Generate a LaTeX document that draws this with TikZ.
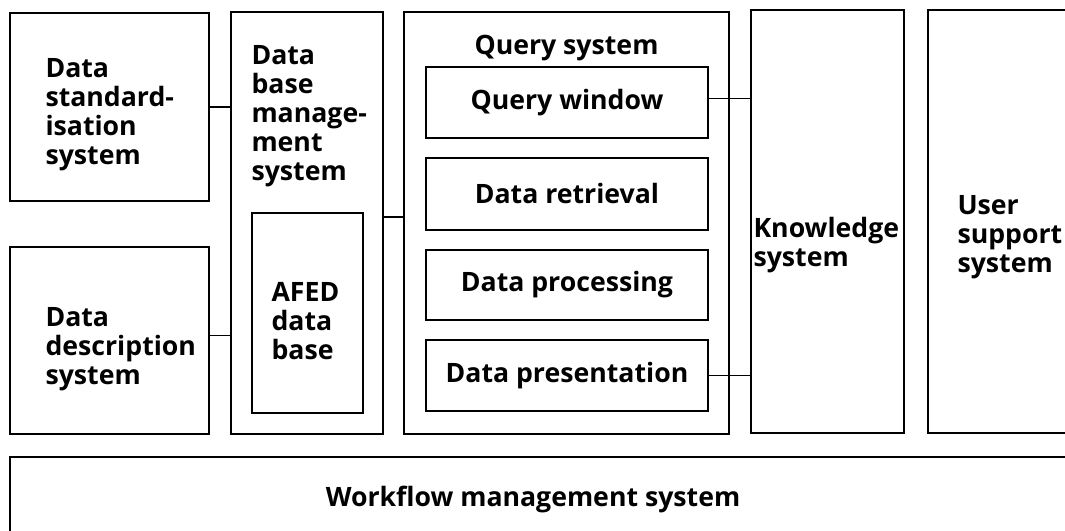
\documentclass[tikz,border=0pt]{standalone}
\usepackage{fontspec}
\setmainfont{Open Sans}
\usetikzlibrary{fit}

\begin{document}
\begin{tikzpicture}[x=0.75pt,y=-0.75pt,line width=0.8pt]
		\clip (0,0) rectangle (1065,531);
		% boxes
		\begin{scope}[every node/.style={draw,inner sep=0pt}]
			\node[fit={(10,13) (209,201)}] (std) {};
			\node[fit={(10,247) (209,434)}] (desc) {};
			\node[fit={(231,12) (383,434)}] (dbms) {};
			\node[fit={(252,213) (363,413)}] (afed) {};
			\node[fit={(404,12) (729,434)}] (query) {};
			\node[fit={(426,67) (708,138)}] (qwin) {};
			\node[fit={(426,158) (708,230)}] (qret) {};
			\node[fit={(426,250) (708,320)}] (qproc) {};
			\node[fit={(426,340) (708,411)}] (qpres) {};
			\node[fit={(751,10) (904,433)}] (know) {};
			\node[fit={(928,10) (1085,433)}] (user) {};
			\node[fit={(10,457) (1085,545)}] (flow) {};
		\end{scope}
		
		% labels
		\begin{scope}[every node/.style={font=\bfseries\fontsize{20}{21.75}\selectfont,
			align=left,inner sep=0pt}]
			\node[anchor=north west] (stdtxt) at (45,58) {Data\\standard-\\isation\\system};
			\node[anchor=north west] (desctxt) at (45,307) {Data\\description\\system};
			\node[anchor=north west] (dbmstxt) at (251,45) {Data\\base\\manage-\\ment\\system};
			\node[anchor=north west] (afedtxt) at (271,282) {AFED\\data\\base};
			\node[anchor=base] (querytxt) at (query.north |- 0,55) {Query system};
			\node (qwintxt) at (qwin) {Query window};
			\node (qrettxt) at (qret) {Data retrieval};
			\node (qproctxt) at (qproc) {Data processing};
			\node (qprestxt) at (qpres) {Data presentation};
			\node[anchor=north west] (knowtxt) at (753,217) {Knowledge\\system};
			\node[anchor=north west] (usertxt) at (957,195) {User\\support\\system};
			\node (flowtxt) at (533,500) {Workflow management system};
		\end{scope}
		
		% connections
		\path (std.east) edge (std.east -| dbms.west);
		\path ([yshift=4pt]desc.east) edge ([yshift=4pt]desc.east -| dbms.west);
		\path ([yshift=4.5pt]dbms.east) edge ([yshift=4.5pt]query.west);
		\path ([yshift=3pt]qwin.east) edge ([yshift=3pt]qwin.east -| know.west);
		\path (qpres.east) edge (qpres.east -| know.west);
	\end{tikzpicture}
\end{document}
